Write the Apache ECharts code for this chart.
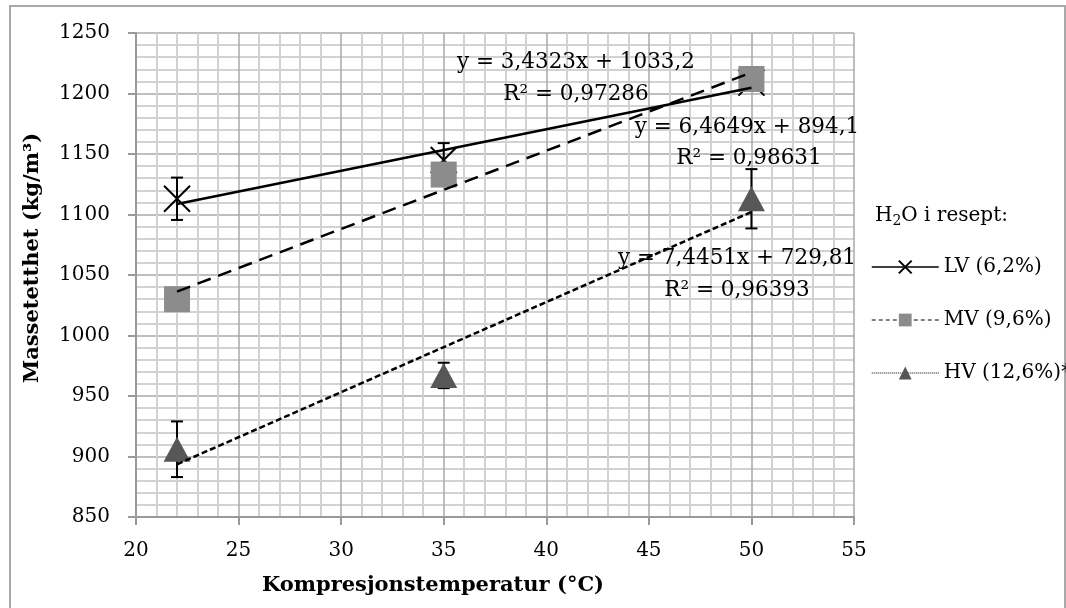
<!DOCTYPE html>
<html>
<head>
<meta charset="utf-8">
<script src="https://cdn.jsdelivr.net/npm/echarts@6/dist/echarts.min.js"></script>
<style>
  html, body { margin: 0; padding: 0; background: #fff; }
  #chart { width: 1066px; height: 608px; }
</style>
</head>
<body>
<div id="chart"></div>
<script>
// data
const temps = [22, 35, 50];
const lvVals = [1113, 1145, 1209];
const mvVals = [1030, 1133, 1212];
const hvVals = [906, 967, 1113];
const lvErr = [17.5, 14, 6];
const mvErr = [8, 8, 8];
const hvErr = [23, 10.5, 24.5];

// trend lines (from the equations printed on the chart)
const trendSlope = [3.4323, 6.4649, 7.4451];
const trendIntercept = [1033.2, 894.1, 729.81];
const trendEq = ["y = 3,4323x + 1033,2", "y = 6,4649x + 894,1", "y = 7,4451x + 729,81"];
const trendR2 = ["R² = 0,97286", "R² = 0,98631", "R² = 0,96393"];

const seriesNames = ["LV (6,2%)", "MV (9,6%)", "HV (12,6%)*"];

const FONT = "DejaVu Serif";
const chart = echarts.init(document.getElementById("chart"));

const pts = (vals) => temps.map((t, i) => [t, vals[i]]);
const errs = (vals, e) => temps.map((t, i) => [t, vals[i] - e[i], vals[i] + e[i]]);
const trend = (k) => [temps[0], temps[temps.length - 1]].map((t) => [t, trendSlope[k] * t + trendIntercept[k]]);

const renderErr = (params, api) => {
  const x = api.value(0);
  const lo = api.coord([x, api.value(1)]);
  const hi = api.coord([x, api.value(2)]);
  const s = { stroke: "#000", lineWidth: 2 };
  return {
    type: "group",
    children: [
      { type: "line", shape: { x1: lo[0], y1: lo[1], x2: hi[0], y2: hi[1] }, style: s },
      { type: "line", shape: { x1: lo[0] - 6, y1: lo[1], x2: lo[0] + 6, y2: lo[1] }, style: s },
      { type: "line", shape: { x1: hi[0] - 6, y1: hi[1], x2: hi[0] + 6, y2: hi[1] }, style: s },
    ],
  };
};

const crossPath = "path://M0,0L20,20M20,0L0,20";
const txt = (text, x, y) => ({
  type: "text",
  z: 20,
  style: { text: text, x: x, y: y, align: "center", verticalAlign: "middle", font: "21.5px 'DejaVu Serif'", fill: "#000" },
});

const option = {
  animation: false,
  grid: { left: 136, right: 212, top: 33, bottom: 91 },
  xAxis: {
    type: "value",
    min: 20,
    max: 55,
    interval: 5,
    axisLine: { lineStyle: { color: "#9a9a9a", width: 2 } },
    axisTick: { length: 8, lineStyle: { color: "#9a9a9a", width: 2 } },
    axisLabel: { fontFamily: FONT, fontSize: 20, color: "#000", margin: 24 },
    splitLine: { lineStyle: { color: "#a8a8a8", width: 1.5 } },
    minorTick: { show: false, splitNumber: 5 },
    minorSplitLine: { show: true, lineStyle: { color: "#d2d2d2", width: 2 } },
  },
  yAxis: {
    type: "value",
    min: 850,
    max: 1250,
    interval: 50,
    axisLine: { show: true, lineStyle: { color: "#9a9a9a", width: 2 } },
    axisTick: { show: true, length: 8, lineStyle: { color: "#9a9a9a", width: 2 } },
    axisLabel: { fontFamily: FONT, fontSize: 20, color: "#000", margin: 26, formatter: (v) => String(v) },
    splitLine: { lineStyle: { color: "#a8a8a8", width: 1.5 } },
    minorTick: { show: false, splitNumber: 5 },
    minorSplitLine: { show: true, lineStyle: { color: "#d2d2d2", width: 2 } },
  },
  legend: {
    orient: "vertical",
    left: 866,
    top: 252,
    itemWidth: 67,
    itemHeight: 16,
    itemGap: 33,
    textStyle: { fontFamily: FONT, fontSize: 20, color: "#000" },
    data: [
      { name: seriesNames[0], lineStyle: { color: "#000", width: 1.5, type: "solid", opacity: 1 } },
      { name: seriesNames[1], lineStyle: { color: "#000", width: 1, type: [4, 3], opacity: 1 } },
      { name: seriesNames[2], lineStyle: { color: "#000", width: 1, type: [1, 1], opacity: 1 } },
    ],
  },
  graphic: [
    { type: "rect", z: -10, shape: { x: 10, y: 6, width: 1055, height: 620 }, style: { fill: "none", stroke: "#a8a8a8", lineWidth: 2 } },
    { type: "text", style: { text: "Kompresjonstemperatur (°C)", x: 433, y: 586, align: "center", verticalAlign: "middle", font: "bold 21px 'DejaVu Serif'", fill: "#000" } },
    { type: "text", rotation: Math.PI / 2, x: 33, y: 258, style: { text: "Massetetthet (kg/m³)", x: 0, y: 0, align: "center", verticalAlign: "middle", font: "bold 21px 'DejaVu Serif'", fill: "#000" } },
    {
      type: "text",
      style: {
        text: "H{sub|2}O i resept:",
        x: 875,
        y: 216,
        verticalAlign: "middle",
        font: "20px 'DejaVu Serif'",
        fill: "#000",
        rich: { sub: { fontSize: 14, fontFamily: FONT, padding: [10, 0, 0, 0] } },
      },
    },
    txt(trendEq[0], 576, 62),
    txt(trendR2[0], 576, 94),
    txt(trendEq[1], 747, 127),
    txt(trendR2[1], 749, 158),
    txt(trendEq[2], 737, 258),
    txt(trendR2[2], 737, 290),
  ],
  series: [
    // error bars
    { type: "custom", name: "errLV", renderItem: renderErr, data: errs(lvVals, lvErr), z: 2, silent: true },
    { type: "custom", name: "errMV", renderItem: renderErr, data: errs(mvVals, mvErr), z: 2, silent: true },
    { type: "custom", name: "errHV", renderItem: renderErr, data: errs(hvVals, hvErr), z: 2, silent: true },
    // markers
    {
      name: seriesNames[0],
      type: "line",
      data: pts(lvVals),
      symbol: crossPath,
      symbolSize: 26,
      lineStyle: { opacity: 0 },
      itemStyle: { color: "#000", borderColor: "#000", borderWidth: 2 },
      z: 3,
    },
    {
      name: seriesNames[1],
      type: "line",
      data: pts(mvVals),
      symbol: "rect",
      symbolSize: 26,
      lineStyle: { opacity: 0 },
      itemStyle: { color: "#8c8c8c" },
      z: 4,
    },
    {
      name: seriesNames[2],
      type: "line",
      data: pts(hvVals),
      symbol: "triangle",
      symbolSize: [27, 25],
      lineStyle: { opacity: 0 },
      itemStyle: { color: "#575757" },
      z: 5,
    },
    // trend lines
    { type: "line", name: "trLV", data: trend(0), symbol: "none", lineStyle: { color: "#000", width: 2.5, type: "solid" }, z: 10, silent: true },
    { type: "line", name: "trMV", data: trend(1), symbol: "none", lineStyle: { color: "#000", width: 2.5, type: [14, 8] }, z: 10, silent: true },
    { type: "line", name: "trHV", data: trend(2), symbol: "none", lineStyle: { color: "#000", width: 2.5, type: [6, 3] }, z: 10, silent: true },
  ],
};

chart.setOption(option);
</script>
</body>
</html>
